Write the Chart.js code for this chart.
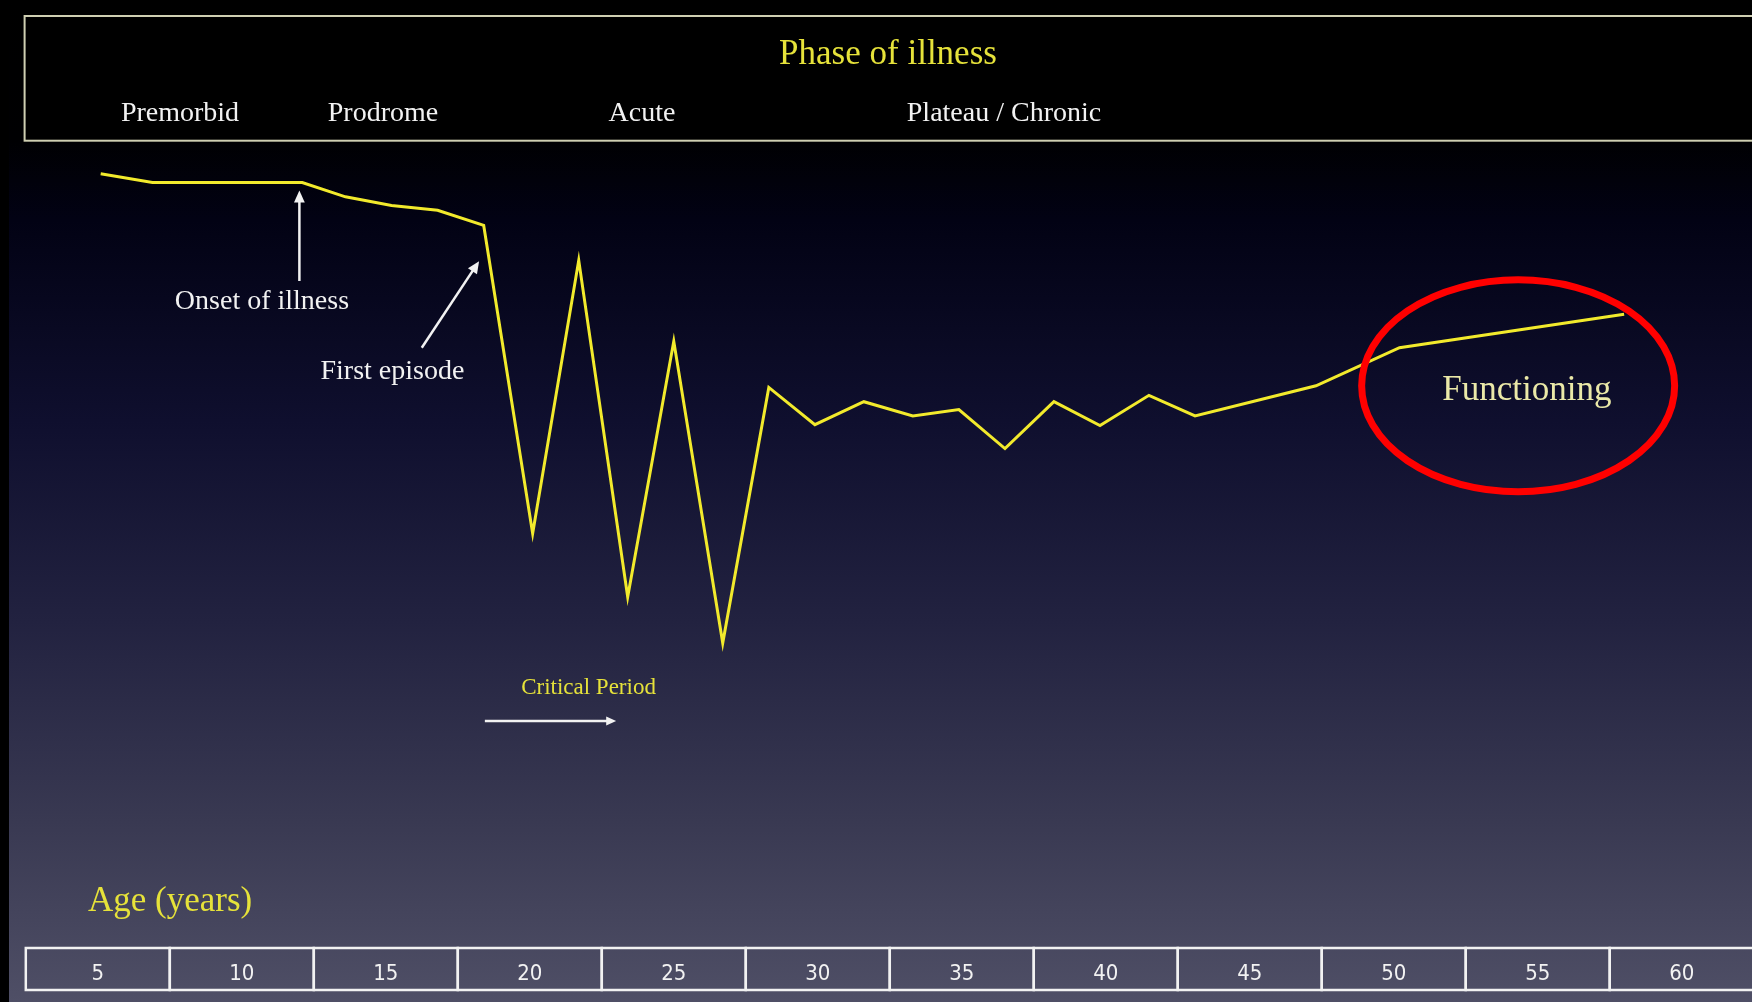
<!DOCTYPE html>
<html>
<head>
<meta charset="utf-8">
<title>Phase of illness</title>
<script src="https://cdn.jsdelivr.net/npm/chart.js@4.4.1/dist/chart.umd.min.js"></script>
<style>
  html, body { margin: 0; padding: 0; background: #000; overflow: hidden; }
</style>
</head>
<body>
<canvas id="chart" width="1752" height="1002"></canvas>
<script>
// Edad (años) de cada vértice de la curva
const ages = [5.1, 6.9, 12.1, 13.6, 15.2, 16.8, 18.4, 20.1, 21.7, 23.4, 25.0, 26.7, 28.3,
              29.9, 31.6, 33.3, 34.9, 36.5, 38.2, 39.8, 41.5, 43.1, 47.3, 50.2, 58.0];
// Nivel de funcionamiento (escala 0-100)
const functioning = [97.0, 95.9, 95.9, 94.1, 93.0, 92.4, 90.5, 51.7, 86.1, 43.7, 75.9, 37.9, 70.1,
                     65.4, 68.3, 66.5, 67.3, 62.4, 68.3, 65.3, 69.1, 66.5, 70.3, 75.1, 79.3];
// Marcas del eje de edad
const ageTicks = [5, 10, 15, 20, 25, 30, 35, 40, 45, 50, 55, 60];
// Fases de la enfermedad
const phaseLabels = ['Premorbid', 'Prodrome', 'Acute', 'Plateau / Chronic'];

const SERIF = '"Liberation Serif", "DejaVu Serif", serif';
const YELLOW = '#e6e23a';
const WHITE = '#f2f2f2';

// posiciones del encabezado (px)
const phaseX = [180, 383, 642, 1004];

function arrow(ctx, x1, y1, x2, y2, head) {
    const ang = Math.atan2(y2 - y1, x2 - x1);
    ctx.beginPath();
    ctx.moveTo(x1, y1);
    ctx.lineTo(x2 - Math.cos(ang) * head * 0.8, y2 - Math.sin(ang) * head * 0.8);
    ctx.stroke();
    ctx.beginPath();
    ctx.moveTo(x2, y2);
    ctx.lineTo(x2 - head * Math.cos(ang) + head * 0.45 * Math.sin(ang), y2 - head * Math.sin(ang) - head * 0.45 * Math.cos(ang));
    ctx.lineTo(x2 - head * Math.cos(ang) - head * 0.45 * Math.sin(ang), y2 - head * Math.sin(ang) + head * 0.45 * Math.cos(ang));
    ctx.closePath();
    ctx.fill();
}

const slidePlugin = {
    id: 'slide',
    beforeDraw(chart) {
        const ctx = chart.ctx;
        const w = chart.width, h = chart.height;
        ctx.save();
        ctx.fillStyle = '#000';
        ctx.fillRect(0, 0, w, h);

        // fondo degradado
        const g = ctx.createLinearGradient(0, 0, 0, h);
        g.addColorStop(0, '#000000');
        g.addColorStop(0.14, '#000002');
        g.addColorStop(0.22, '#020214');
        g.addColorStop(0.42, '#0f0f2e');
        g.addColorStop(0.62, '#222240');
        g.addColorStop(0.82, '#393952');
        g.addColorStop(1, '#4f4f66');
        ctx.fillStyle = g;
        ctx.fillRect(9, 0, w - 9, h);

        // caja de fases
        ctx.fillStyle = '#000';
        ctx.fillRect(24.6, 16, w, 124.7);
        ctx.strokeStyle = '#cfcfb2';
        ctx.lineWidth = 2;
        ctx.strokeRect(24.6, 16, w + 10, 124.7);

        ctx.textAlign = 'center';
        ctx.textBaseline = 'middle';
        ctx.fillStyle = YELLOW;
        ctx.font = '35px ' + SERIF;
        ctx.fillText('Phase of illness', 888, 55);

        ctx.fillStyle = WHITE;
        ctx.font = '28px ' + SERIF;
        phaseLabels.forEach((lab, i) => ctx.fillText(lab, phaseX[i], 114));

        // título del eje
        ctx.fillStyle = YELLOW;
        ctx.font = '35px ' + SERIF;
        ctx.textAlign = 'left';
        ctx.fillText('Age (years)', 88, 902);

        // casillas de edad
        const x = chart.scales.x;
        ctx.strokeStyle = WHITE;
        ctx.lineWidth = 2.5;
        ageTicks.forEach(t => {
            const l = x.getPixelForValue(t - 2.5);
            const r = x.getPixelForValue(t + 2.5);
            ctx.strokeRect(l, 948, r - l, 42);
        });
        ctx.restore();
    },
    afterDatasetsDraw(chart) {
        const ctx = chart.ctx;
        const x = chart.scales.x, y = chart.scales.y;
        const px = a => x.getPixelForValue(a);
        const py = v => y.getPixelForValue(v);
        ctx.save();
        ctx.textAlign = 'center';
        ctx.textBaseline = 'middle';

        // anotaciones
        ctx.fillStyle = WHITE;
        ctx.strokeStyle = WHITE;
        ctx.lineWidth = 2.5;
        ctx.font = '28px ' + SERIF;
        ctx.fillText('Onset of illness', px(10.7), py(81.2) + 2);
        ctx.fillText('First episode', px(15.23), py(72.4) + 2);
        arrow(ctx, px(12), py(83.5), px(12), py(94.9), 12);
        arrow(ctx, px(16.25), py(75.1), px(18.24), py(86.0), 12);
        arrow(ctx, px(18.44), py(28.1), px(23.0), py(28.1), 10);

        ctx.fillStyle = YELLOW;
        ctx.font = '23px ' + SERIF;
        ctx.fillText('Critical Period', px(22.04), py(32.6) + 3);

        // elipse roja
        ctx.strokeStyle = '#ff0000';
        ctx.lineWidth = 7;
        ctx.beginPath();
        ctx.ellipse(px(54.32), py(70.3), 156.5, 106, 0, 0, Math.PI * 2);
        ctx.stroke();

        ctx.fillStyle = '#ebe9a8';
        ctx.font = '35px ' + SERIF;
        ctx.fillText('Functioning', px(54.62), py(69.9) + 2);
        ctx.restore();
    }
};

const ctx = document.getElementById('chart').getContext('2d');
new Chart(ctx, {
    type: 'line',
    data: {
        datasets: [{
            label: 'Functioning',
            data: ages.map((a, i) => ({ x: a, y: functioning[i] })),
            borderColor: '#f2ea2c',
            borderWidth: 3,
            pointRadius: 0,
            tension: 0,
            fill: false
        }]
    },
    options: {
        responsive: false,
        animation: false,
        devicePixelRatio: 1,
        layout: { padding: { top: 150, left: 25.8, right: 0, bottom: -2.4 } },
        plugins: { legend: { display: false }, tooltip: { enabled: false } },
        scales: {
            x: {
                type: 'linear',
                min: 2.5,
                max: 62.44,
                afterBuildTicks: s => { s.ticks = ageTicks.map(v => ({ value: v })); },
                grid: { display: false, drawTicks: false },
                border: { display: false },
                ticks: {
                    color: WHITE,
                    autoSkip: false,
                    maxRotation: 0,
                    padding: 17,
                    font: { family: '"Liberation Sans Narrow", "DejaVu Sans Condensed", sans-serif', size: 22 }
                }
            },
            y: { display: false, min: 0, max: 100 }
        }
    },
    plugins: [slidePlugin]
});
</script>
</body>
</html>
